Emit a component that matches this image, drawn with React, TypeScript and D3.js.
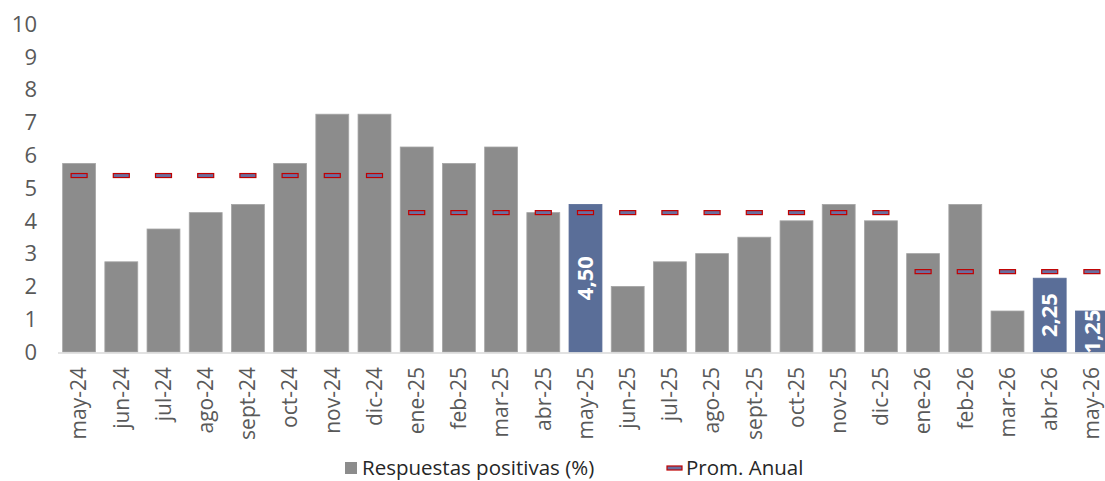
import React from "react";
import * as d3 from "d3";

const categories = ["may-24","jun-24","jul-24","ago-24","sept-24","oct-24","nov-24","dic-24","ene-25","feb-25","mar-25","abr-25","may-25","jun-25","jul-25","ago-25","sept-25","oct-25","nov-25","dic-25","ene-26","feb-26","mar-26","abr-26","may-26"];
const positivas = [5.75,2.75,3.75,4.25,4.5,5.75,7.25,7.25,6.25,5.75,6.25,4.25,4.5,2.0,2.75,3.0,3.5,4.0,4.5,4.0,3.0,4.5,1.25,2.25,1.25];
const promAnual = [5.38,5.38,5.38,5.38,5.38,5.38,5.38,5.38,4.25,4.25,4.25,4.25,4.25,4.25,4.25,4.25,4.25,4.25,4.25,4.25,2.45,2.45,2.45,2.45,2.45];
const highlighted = ["may-25","abr-26","may-26"];
const highlightLabels = ["4,50","2,25","1,25"];
const yTicks = [0,1,2,3,4,5,6,7,8,9,10];

const FONT = "'Open Sans', 'Noto Sans', sans-serif";

export default function App() {
  const W = 1105, H = 481;
  const x = d3.scaleBand<string>().domain(categories).range([58, 1113]).paddingInner(0.22).paddingOuter(0.11);
  const y = d3.scaleLinear().domain([0, 10]).range([352, 24]);
  const bw = x.bandwidth();
  return (
    <svg width={W} height={H} style={{ position: "absolute", left: 0, top: 0 }} fontFamily={FONT}>
      <defs>
        <clipPath id="plotClip">
          <rect x={58} y={0} width={1060} height={352} />
        </clipPath>
      </defs>
      {yTicks.map(t => (
        <text key={t} x={37} y={y(t)} dy="0.35em" textAnchor="end" fontSize={22} fill="#595959">{t}</text>
      ))}
      {categories.map((c, i) => {
        const hi = highlighted.indexOf(c);
        return (
          <rect key={c} x={x(c)} y={y(positivas[i])} width={bw} height={y(0) - y(positivas[i])}
            fill={hi >= 0 ? "#5a6e98" : "#8c8c8c"} stroke={hi >= 0 ? "#5a6e98" : "#a6a6a6"} strokeWidth={0.8} />
        );
      })}
      <line x1={58} x2={1113} y1={353} y2={353} stroke="#d9d9d9" strokeWidth={1.5} />
      {categories.map((c, i) => (
        <rect key={"m" + c} x={x(c)! + bw / 2 - 8} y={y(promAnual[i]) - 2} width={16} height={4}
          fill="#6a6fa0" stroke="#c00000" strokeWidth={1.2} />
      ))}
      <g clipPath="url(#plotClip)">
        {highlighted.map((c, k) => {
          const i = categories.indexOf(c);
          const cx = x(c)! + bw / 2;
          const cy = (y(positivas[i]) + y(0)) / 2;
          return (
            <text key={"l" + c} transform={`translate(${cx},${cy}) rotate(-90)`} textAnchor="middle" dy="0.35em"
              fontSize={22} fontWeight="bold" fill="#ffffff">{highlightLabels[k]}</text>
          );
        })}
      </g>
      {categories.map(c => (
        <text key={"x" + c} transform={`translate(${x(c)! + bw / 2},${367}) rotate(-90)`} textAnchor="end" dy="0.35em"
          fontSize={21} fill="#595959">{c}</text>
      ))}
      <rect x={345} y={462} width={12} height={12} fill="#8c8c8c" />
      <text x={362} y={468} dy="0.35em" fontSize={20.5} fill="#262626">Respuestas positivas (%)</text>
      <rect x={667} y={466} width={15} height={4} fill="#6a6fa0" stroke="#c00000" strokeWidth={1.2} />
      <text x={686} y={468} dy="0.35em" fontSize={20.5} fill="#262626">Prom. Anual</text>
    </svg>
  );
}
